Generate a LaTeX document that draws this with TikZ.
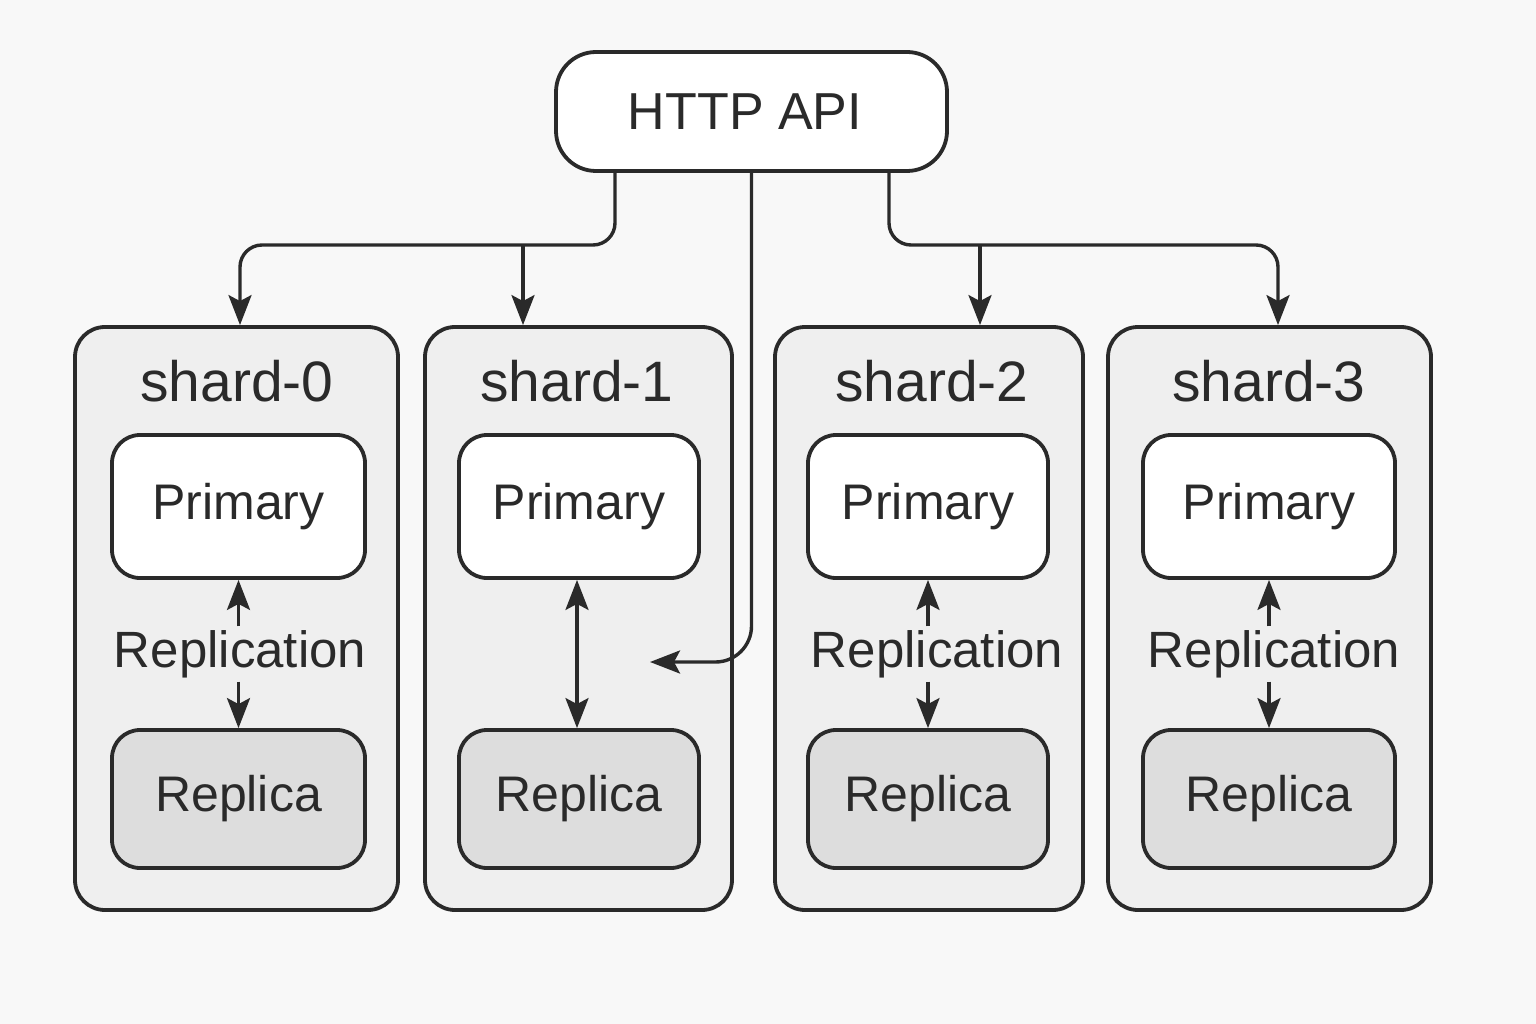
\documentclass[tikz,border=0pt]{standalone}
\usepackage{fontspec}
\setmainfont{Liberation Sans}
\usetikzlibrary{arrows.meta,calc}
\definecolor{bg}{HTML}{F8F8F8}
\definecolor{ink}{HTML}{2A2A2A}
\definecolor{shardfill}{HTML}{EFEFEF}
\definecolor{replfill}{HTML}{DDDDDD}
\begin{document}
\begin{tikzpicture}[x=1pt,y=-1pt,
  line width=3.8pt, draw=ink, text=ink,
  arr/.style={draw=ink, line width=3.4pt, -{Stealth[length=30pt,width=23pt,inset=6pt]}},
  darr/.style={draw=ink, line width=3.4pt, {Stealth[length=30pt,width=23pt,inset=6pt]}-{Stealth[length=30pt,width=23pt,inset=6pt]}},
  apibox/.style={draw=ink, fill=white, rounded corners=40pt, line width=3.8pt,
    minimum width=391pt, minimum height=119pt},
  shardbox/.style={draw=ink, fill=shardfill, rounded corners=30pt, line width=3.8pt,
    minimum height=583pt},
  shardlabel/.style={font=\fontsize{57}{60}\selectfont, inner sep=0pt},
  primbox/.style={draw=ink, fill=white, rounded corners=28pt, line width=3.8pt,
    minimum height=143pt, font=\fontsize{50}{60}\selectfont},
  replbox/.style={draw=ink, fill=replfill, rounded corners=28pt, line width=3.8pt,
    minimum height=138pt, font=\fontsize{50}{60}\selectfont},
  repllabel/.style={font=\fontsize{51}{58}\selectfont, inner sep=2pt}
]
\useasboundingbox[fill=bg] (0,0) rectangle (1536,1024);

% API
\node[apibox] (api) at (751.5,111.5) {};
\node[font=\fontsize{52}{60}\selectfont] (apitext) at (745,111.5) {HTTP API};

% shard boxes
\node[shardbox, minimum width=323pt] (s0) at (236.5,618.5) {};
\node[shardbox, minimum width=307pt] (s1) at (578.5,618.5) {};
\node[shardbox, minimum width=308pt] (s2) at (929,618.5) {};
\node[shardbox, minimum width=323pt] (s3) at (1269.5,618.5) {};

% labels
\node[shardlabel] (l0) at (237,381) {shard-0};
\node[shardlabel] (l1) at (577,381) {shard-1};
\node[shardlabel] (l2) at (932,381) {shard-2};
\node[shardlabel] (l3) at (1269,381) {shard-3};

% primary
\node[primbox, minimum width=253pt] (p0) at (238.5,506.5) {Primary};
\node[primbox, minimum width=240pt] (p1) at (579,506.5) {Primary};
\node[primbox, minimum width=240pt] (p2) at (928,506.5) {Primary};
\node[primbox, minimum width=252pt] (p3) at (1269,506.5) {Primary};

% replica
\node[replbox, minimum width=253pt] (r0) at (238.5,799) {Replica};
\node[replbox, minimum width=240pt] (r1) at (579,799) {Replica};
\node[replbox, minimum width=240pt] (r2) at (928,799) {Replica};
\node[replbox, minimum width=252pt] (r3) at (1269,799) {Replica};

% replication labels
\node[repllabel] (q0) at (240,654) {Replication};
\node[repllabel] (q2) at (937,654) {Replication};
\node[repllabel] (q3) at (1274,654) {Replication};

\draw[arr] (q0.north -| p0.south) -- (p0.south);
\draw[arr] (q0.south -| r0.north) -- (r0.north);
\draw[arr] (q2.north -| p2.south) -- (p2.south);
\draw[arr] (q2.south -| r2.north) -- (r2.north);
\draw[arr] (q3.north -| p3.south) -- (p3.south);
\draw[arr] (q3.south -| r3.north) -- (r3.north);
\draw[darr] ([xshift=-2pt]r1.north) -- ([xshift=-2pt]p1.south);

% bus from API
\coordinate (bus) at (0,245);
\coordinate (midend) at (650,662);
\draw[arr, rounded corners=22pt] ([xshift=-136.5pt]api.south) |- ([xshift=3.5pt]s0.north |- bus) -- ([xshift=3.5pt]s0.north);
\draw[arr] ([xshift=-55.5pt]s1.north |- bus) -- ([xshift=-55.5pt]s1.north);
\draw[arr, rounded corners=22pt] ([xshift=137.5pt]api.south) |- ([xshift=8.5pt]s3.north |- bus) -- ([xshift=8.5pt]s3.north);
\draw[arr] ([xshift=51pt]s2.north |- bus) -- ([xshift=51pt]s2.north);
\draw[arr, rounded corners=36pt] (api.south) |- (midend);
\end{tikzpicture}
\end{document}
